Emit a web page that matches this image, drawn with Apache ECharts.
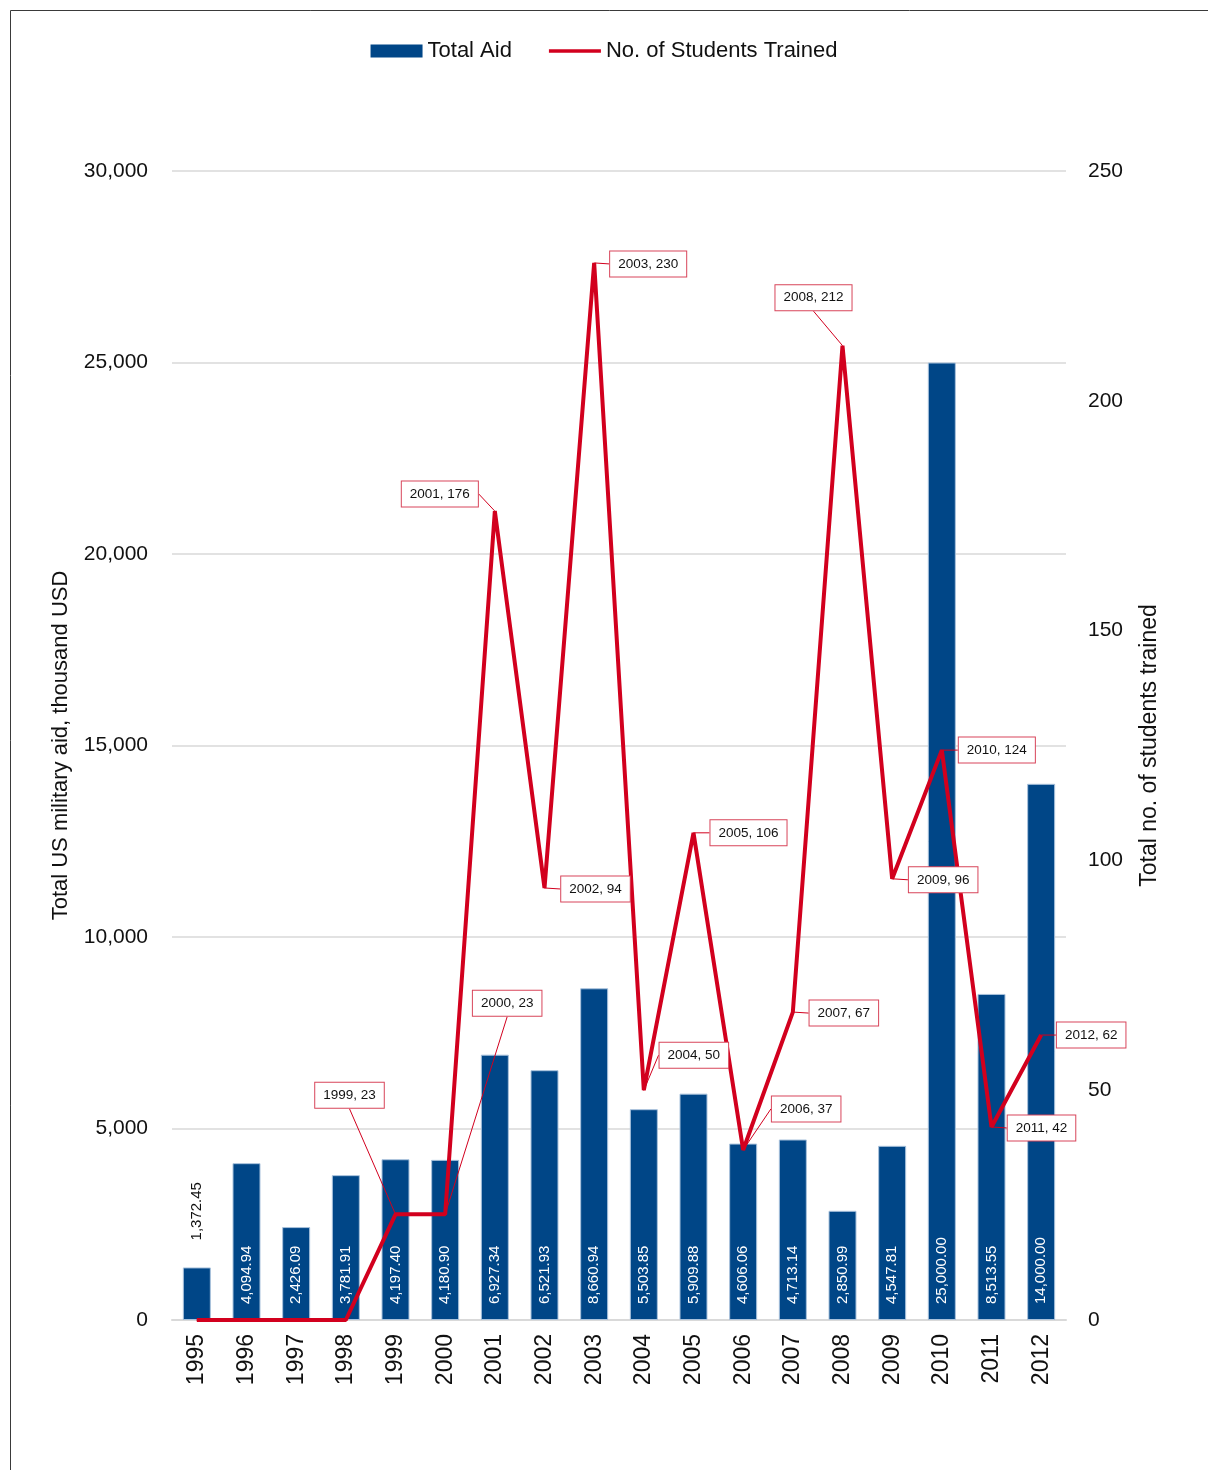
<!DOCTYPE html>
<html>
<head>
<meta charset="utf-8">
<script src="https://cdn.jsdelivr.net/npm/echarts@6/dist/echarts.min.js"></script>
<style>
html,body{margin:0;padding:0;background:#fff;}
#chart{width:1208px;height:1470px;}
</style>
</head>
<body>
<div id="chart"></div>
<script>
const years = ['1995','1996','1997','1998','1999','2000','2001','2002','2003','2004','2005','2006','2007','2008','2009','2010','2011','2012'];
const totalAid = [1372.45,4094.94,2426.09,3781.91,4197.40,4180.90,6927.34,6521.93,8660.94,5503.85,5909.88,4606.06,4713.14,2850.99,4547.81,25000.00,8513.55,14000.00];
const students = [0,0,0,0,23,23,176,94,230,50,106,37,67,212,96,124,42,62];
const leftTicks = [0,5000,10000,15000,20000,25000,30000];
const rightTicks = [0,50,100,150,200,250];

// label callout offsets (layout only)
const calloutOffsets = {
  4:[-46,-119], 5:[62,-211], 6:[-55,-17], 7:[51,1], 8:[54,1], 9:[50,-35],
  10:[55,0], 11:[63,-41], 12:[51,1], 13:[-29,-48], 14:[51,1], 15:[55,0],
  16:[50,1], 17:[50,0]
};

const FONT = 'Liberation Sans';
const RED = '#d2001e';
const BLUE = '#004687';

const fmt = v => v.toLocaleString('en-US',{minimumFractionDigits:2,maximumFractionDigits:2});

const barData = totalAid.map((v,i) => i === 0 ? {
  value: v,
  label: {position:'top', color:'#111', distance:27}
} : v);

const lineData = students.map((v,i) => i < 4 ? {value:v, label:{show:false}, labelLine:{show:false}} : v);

const chart = echarts.init(document.getElementById('chart'), null, {renderer:'canvas'});
chart.setOption({
  backgroundColor:'#fff',
  animation:false,
  textStyle:{fontFamily:FONT},
  graphic:[{
    type:'rect', silent:true,
    shape:{x:10.5, y:10.5, width:1400, height:1600},
    style:{fill:'none', stroke:'#3a3a3a', lineWidth:1}
  }],
  legend:{
    top:35, left:'center',
    itemWidth:52, itemHeight:13, itemGap:37,
    textStyle:{fontFamily:FONT, fontSize:22, color:'#111'},
    data:[
      {name:'Total Aid', icon:'rect', itemStyle:{borderWidth:0}},
      {name:'No. of Students Trained', icon:'path://M0,5 L52,5 L52,8.5 L0,8.5 Z', itemStyle:{borderWidth:0}}
    ]
  },
  grid:{left:172, right:142, top:171, bottom:150, containLabel:false},
  xAxis:{
    type:'category', data:years,
    axisLine:{show:true, lineStyle:{color:'#d9d9d9', width:2}},
    axisTick:{show:false},
    axisLabel:{rotate:90, fontFamily:FONT, fontSize:23, color:'#111', margin:14}
  },
  yAxis:[{
    type:'value', min:0, max:30000, interval:5000,
    name:'Total US military aid, thousand USD', nameLocation:'middle', nameGap:100, nameRotate:90,
    nameTextStyle:{fontFamily:FONT, fontSize:22, color:'#111'},
    axisLine:{show:false}, axisTick:{show:false},
    axisLabel:{fontFamily:FONT, fontSize:21, color:'#111', margin:24,
      formatter:v => v.toLocaleString('en-US')},
    splitLine:{show:true, lineStyle:{color:'#d9d9d9', width:1.5}}
  },{
    type:'value', min:0, max:250, interval:50,
    name:'Total no. of students trained', nameLocation:'middle', nameGap:72, nameRotate:90,
    nameTextStyle:{fontFamily:FONT, fontSize:23, color:'#111'},
    axisLine:{show:false}, axisTick:{show:false},
    axisLabel:{fontFamily:FONT, fontSize:21, color:'#111', margin:22},
    splitLine:{show:false}
  }],
  series:[{
    name:'Total Aid', type:'bar', yAxisIndex:0,
    data:barData, barWidth:28,
    itemStyle:{color:BLUE, borderColor:'#a9c2dc', borderWidth:1},
    label:{show:true, position:'insideBottom', rotate:90, align:'left', verticalAlign:'middle',
      distance:16, color:'#fff', fontFamily:FONT, fontSize:15,
      formatter:p => fmt(p.value)}
  },{
    name:'No. of Students Trained', type:'line', yAxisIndex:1,
    data:lineData, symbol:'circle', symbolSize:1, showSymbol:true, z:5,
    lineStyle:{color:RED, width:4},
    itemStyle:{color:RED},
    label:{show:true, position:'inside', fontFamily:FONT, fontSize:13.5, color:'#111',
      backgroundColor:'#fff', borderColor:'#d8455a', borderWidth:1, padding:[6,8,5,8],
      formatter:p => years[p.dataIndex] + ', ' + p.value},
    labelLine:{show:true, lineStyle:{color:RED, width:1}},
    labelLayout:function(params){
      const o = calloutOffsets[params.dataIndex];
      if(!o) return {};
      return {dx:o[0], dy:o[1]};
    }
  }]
});
</script>
</body>
</html>
